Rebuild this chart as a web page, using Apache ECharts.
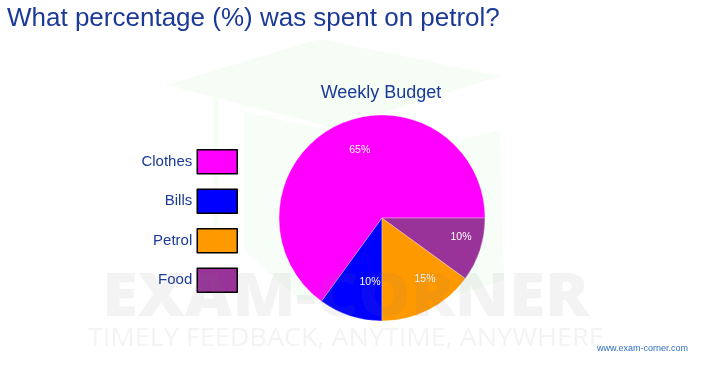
<!DOCTYPE html>
<html>
<head>
<meta charset="utf-8">
<script src="https://cdn.jsdelivr.net/npm/echarts@6/dist/echarts.min.js"></script>
<style>html,body{margin:0;padding:0;background:#fff}#c{width:716px;height:367px}</style>
</head>
<body>
<div id="c"></div>
<script>
const categories = ['Clothes', 'Bills', 'Petrol', 'Food'];
const values = [65, 10, 15, 10];
const colors = ['#ff00ff', '#0000ff', '#ff9900', '#993399'];
const mainTitle = 'What percentage (%) was spent on petrol?';
const chartTitle = 'Weekly Budget';

// label placement style (fraction of radius, angular nudge in degrees)
const labelRadiusFrac = [0.694, 0.635, 0.724, 0.788];
const labelAngleNudge = [-8.9, 7.4, 8.2, 4.7];

const CX = 382, CY = 218, R = 103;
const chart = echarts.init(document.getElementById('c'), null, {renderer: 'canvas'});
const textBlue = '#1b3a98';
const total = values.reduce((a, b) => a + b, 0);
const midAngles = [];
{
  let acc = 0;
  values.forEach(v => { midAngles.push((acc + v / 2) / total * 360); acc += v; });
}
chart.setOption({
  animation: false,
  backgroundColor: '#ffffff',
  title: [
    {text: mainTitle, left: 7, top: 6, padding: 0,
     textStyle: {fontFamily: 'Liberation Sans, Arial, sans-serif', fontSize: 26, fontWeight: 'normal', color: textBlue}},
    {text: chartTitle, left: 381, top: 84, padding: 0, textAlign: 'center',
     textStyle: {fontFamily: 'Liberation Sans, Arial, sans-serif', fontSize: 18, fontWeight: 'normal', color: textBlue}}
  ],
  legend: {
    orient: 'vertical', align: 'right', right: 478, top: 149, padding: 0,
    itemWidth: 40, itemHeight: 24, itemGap: 14, icon: 'rect',
    itemStyle: {borderColor: '#000', borderWidth: 1.5},
    textStyle: {fontFamily: 'Liberation Sans, Arial, sans-serif', fontSize: 15, color: textBlue},
    data: categories
  },
  graphic: [
    {type: 'polygon', z: -10, silent: true,
     shape: {points: [[320, 39], [500, 76], [335, 128], [166, 85]]},
     style: {fill: '#f5fdf5'}},
    {type: 'polygon', z: -10, silent: true,
     shape: {points: [[244, 112], [420, 150], [500, 130], [504, 280], [440, 300], [300, 300], [244, 250]]},
     style: {fill: '#f7fdf7'}},
    {type: 'rect', z: -10, silent: true, shape: {x: 213, y: 88, width: 5, height: 140}, style: {fill: '#f5fdf5'}},
    {type: 'text', z: 100, silent: true, x: 102, y: 268, scaleX: 1.07,
     style: {text: 'EXAM-CORNER', font: '800 61px "Open Sans", "DejaVu Sans", sans-serif', fill: 'rgba(120,120,120,0.09)'}},
    {type: 'text', z: 100, silent: true, x: 88, y: 326, scaleX: 1.08,
     style: {text: 'TIMELY FEEDBACK, ANYTIME, ANYWHERE', font: '25px "Open Sans", "DejaVu Sans", sans-serif', fill: 'rgba(120,120,120,0.09)'}},
    {type: 'text', z: 101, silent: true, left: 597, top: 344,
     style: {text: 'www.exam-corner.com', font: '9px "Liberation Sans", Arial, sans-serif', fill: '#2f6fc0'}}
  ],
  series: [{
    type: 'pie',
    center: [CX, CY],
    radius: [0, R],
    startAngle: 0,
    clockwise: false,
    avoidLabelOverlap: false,
    itemStyle: {borderColor: 'rgba(255,255,255,0.6)', borderWidth: 0.5},
    label: {show: true, position: 'inside', formatter: '{d}%', color: '#ffffff',
            fontFamily: 'Liberation Sans, Arial, sans-serif', fontSize: 10.5},
    labelLine: {show: false},
    emphasis: {disabled: true},
    labelLayout: function (p) {
      const i = p.dataIndex;
      const a = (midAngles[i] + labelAngleNudge[i]) * Math.PI / 180;
      const r = labelRadiusFrac[i] * R;
      return {x: CX + r * Math.cos(a), y: CY - r * Math.sin(a), align: 'center', verticalAlign: 'middle'};
    },
    data: categories.map((n, i) => ({name: n, value: values[i], itemStyle: {color: colors[i]}}))
  }]
});
</script>
</body>
</html>
